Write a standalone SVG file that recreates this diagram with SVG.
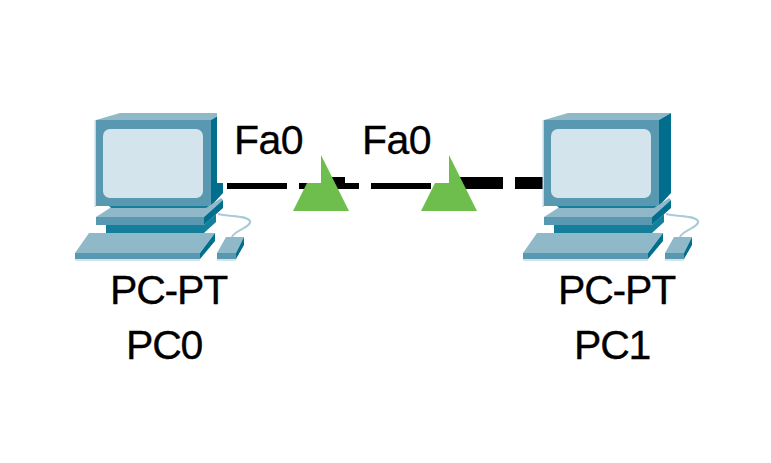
<svg xmlns="http://www.w3.org/2000/svg" xmlns:xlink="http://www.w3.org/1999/xlink" width="771" height="463" viewBox="0 0 771 463">
<style>
text{font-family:"Liberation Sans",Arial,sans-serif;font-size:41px;letter-spacing:-1.2px;fill:#000;stroke:#000;stroke-width:.3px}
text.port-label{letter-spacing:-0.5px}
.light{fill:#8fb9c9}.mid{fill:#5898b0}.dark{fill:#006e8c}.deep{fill:#157e9b}.pale{fill:#d4e4ec}
.dash{stroke:#000;fill:none}
.port{fill:#6ebe4e}
</style>
<defs>
<g id="pc">
<path d="M75 259h125v2H75zM217 259h19v2h-19z" fill="#d4e4ec"/>
<path d="M94.500 120V207H96V120z" fill="#c4dbe4"/>
<polygon class="light" points="96,120 120,113 223,113 211,120"/>
<polygon class="dark" points="211,120 223,113 223,193 211,206"/>
<rect class="mid" x="96" y="120" width="115" height="86"/>
<rect class="pale" x="103" y="129" width="100" height="69" rx="7"/>
<polygon class="deep" points="109,206 211,206 206,211 114,211"/>
<polygon class="light" points="96,217 110,208 206,208 221,198 223,200 204,217"/>
<polygon class="mid" points="96,217 204,217 204,225 96,225"/>
<polygon class="dark" points="204,217 223,200 223,208 204,225"/>
<rect class="deep" x="106" y="225" width="98" height="8"/>
<polygon class="deep" points="204,225 216,214 216,222 204,233"/>
<polygon class="light" points="89,233 215,233 200,253 75,253"/>
<polygon class="mid" points="75,253 200,253 200,259 75,259"/>
<polygon class="dark" points="200,253 215,233 215,241 200,259"/>
<polygon class="light" points="226,237 244,237 236,253 217,253"/>
<polygon class="mid" points="217,253 236,253 236,259 217,259"/>
<polygon class="dark" points="236,253 244,237 244,245 236,259"/>
<path d="M218 214C230 217 246 215 250 221C252 227 235 230 232 237" fill="none" stroke="#a9cbd7" stroke-width="2"/>
</g>
</defs>
<rect width="771" height="463" fill="#fff"/>
<g id="connectors">
<path class="dash" stroke-width="6" d="M227 186H287M299 186H359M371 186H431"/>
<path class="dash" stroke-width="12" d="M449 183H503M515 183H545"/>
<path class="dash" stroke-width="6" d="M325 180H345"/>
</g>
<g id="PC0">
<use href="#pc" xlink:href="#pc"/>
<rect x="217" y="110" width="9" height="73" fill="#fff"/>
<text x="110" y="304">PC-PT</text>
<text x="126" y="359">PC0</text>
</g>
<g id="PC1">
<use href="#pc" xlink:href="#pc" x="448"/>
<text x="558" y="304">PC-PT</text>
<text x="574" y="359">PC1</text>
</g>
<g id="port-labels">
<text class="port-label" x="234" y="154">Fa0</text>
<text class="port-label" x="362" y="154">Fa0</text>
</g>
<g id="port-indicators">
<polygon class="port" points="321,155 349,211 293,211 307,183 321,183"/>
<polygon class="port" points="449,155 477,211 421,211 435,183 449,183"/>
</g>
</svg>
